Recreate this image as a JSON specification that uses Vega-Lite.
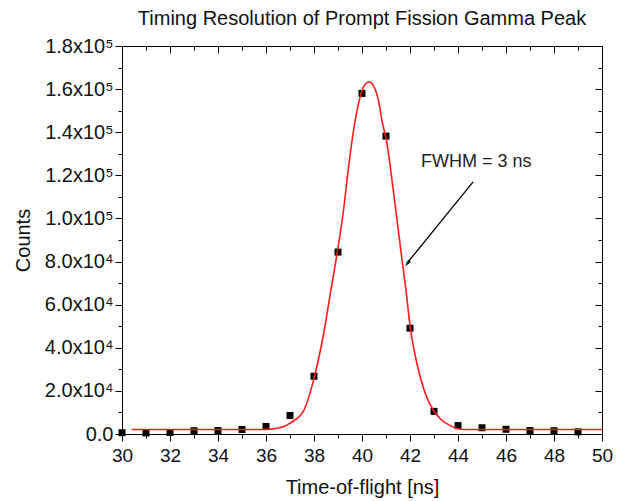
{
  "$schema": "https://vega.github.io/schema/vega-lite/v6.json",
  "autosize": {"type": "none"},
  "padding": {"left": 122, "top": 46, "right": 18, "bottom": 67},
  "width": 480,
  "height": 388,
  "background": "white",
  "title": {"text": "Timing Resolution of Prompt Fission Gamma Peak", "font": "Liberation Sans", "fontSize": 20, "fontWeight": "normal", "color": "#111", "anchor": "middle", "offset": 7},
  "config": {
    "view": {"stroke": "black", "strokeWidth": 1},
    "axis": {"labelFont": "Liberation Sans", "titleFont": "Liberation Sans", "labelColor": "#111", "titleColor": "#111", "titleFontWeight": "normal", "domainColor": "black", "tickColor": "black", "grid": false, "labelFlush": false, "labelOverlap": false}
  },
  "datasets": {
    "points": [
      {"t": 30, "counts": 600}, {"t": 31, "counts": 500}, {"t": 32, "counts": 700}, {"t": 33, "counts": 1500},
      {"t": 34, "counts": 1600}, {"t": 35, "counts": 2100}, {"t": 36, "counts": 3500}, {"t": 37, "counts": 8600},
      {"t": 38, "counts": 26800}, {"t": 39, "counts": 84400}, {"t": 40, "counts": 158000}, {"t": 41, "counts": 138200},
      {"t": 42, "counts": 49100}, {"t": 43, "counts": 10500}, {"t": 44, "counts": 3900}, {"t": 45, "counts": 2900},
      {"t": 46, "counts": 2200}, {"t": 47, "counts": 1600}, {"t": 48, "counts": 1500}, {"t": 49, "counts": 1000}
    ],
    "fit": [
      {"t": 30.4, "counts": 2100}, {"t": 36.0, "counts": 2100}, {"t": 36.5, "counts": 2800}, {"t": 36.8, "counts": 3700},
      {"t": 37.0, "counts": 5000}, {"t": 37.2, "counts": 6500}, {"t": 37.43, "counts": 8600}, {"t": 37.57, "counts": 10900},
      {"t": 37.98, "counts": 24900}, {"t": 38.4, "counts": 46500}, {"t": 38.68, "counts": 65100}, {"t": 38.96, "counts": 83700},
      {"t": 39.23, "counts": 103800}, {"t": 39.44, "counts": 123900}, {"t": 39.65, "counts": 141000}, {"t": 39.86, "counts": 153500},
      {"t": 40.01, "counts": 159600}, {"t": 40.21, "counts": 163000}, {"t": 40.3, "counts": 163300}, {"t": 40.48, "counts": 161500},
      {"t": 40.68, "counts": 155000}, {"t": 40.83, "counts": 145600}, {"t": 41.04, "counts": 134800}, {"t": 41.25, "counts": 117800},
      {"t": 41.46, "counts": 99200}, {"t": 41.67, "counts": 80600}, {"t": 41.8, "counts": 69800}, {"t": 42.01, "counts": 49600},
      {"t": 42.29, "counts": 32600}, {"t": 42.64, "counts": 18700}, {"t": 42.98, "counts": 10900}, {"t": 43.26, "counts": 7100},
      {"t": 43.68, "counts": 3900}, {"t": 44.22, "counts": 2100}, {"t": 50, "counts": 2100}
    ],
    "arrow": [
      {"t": 44.63, "counts": 116960}, {"t": 41.86, "counts": 79000}
    ],
    "head": [
      {"t": 41.9, "counts": 79200}
    ],
    "label": [
      {"t": 42.46, "counts": 126250, "text": "FWHM = 3 ns"}
    ]
  },
  "layer": [
    {
      "data": {"name": "points"},
      "mark": {"type": "point", "shape": "square", "filled": true, "color": "black", "size": 49, "opacity": 1, "clip": false},
      "encoding": {
        "x": {"field": "t", "type": "quantitative", "scale": {"domain": [30, 50], "nice": false, "zero": false},
          "axis": {"orient": "bottom", "title": "Time-of-flight [ns]", "titleFontSize": 20, "titlePadding": 12, "labelFontSize": 19, "labelPadding": 5,
            "values": [30,31,32,33,34,35,36,37,38,39,40,41,42,43,44,45,46,47,48,49,50],
            "labelExpr": "datum.value % 2 == 0 ? format(datum.value, 'd') : ''",
            "tickSize": {"condition": {"test": "datum.value % 2 == 0", "value": 7}, "value": 4}}},
        "y": {"field": "counts", "type": "quantitative", "scale": {"domain": [0, 180000], "nice": false},
          "axis": {"orient": "left", "title": "Counts", "titleFontSize": 20, "titlePadding": 11, "labelFontSize": 20, "labelPadding": 2,
            "values": [0,10000,20000,30000,40000,50000,60000,70000,80000,90000,100000,110000,120000,130000,140000,150000,160000,170000,180000],
            "labelExpr": "datum.value == 0 ? '0.0' : (datum.value % 20000 != 0 ? '' : (datum.value >= 100000 ? format(datum.value/100000, '.1f') + 'x10⁵' : format(datum.value/10000, '.1f') + 'x10⁴'))",
            "tickSize": {"condition": {"test": "datum.value % 20000 == 0", "value": 7}, "value": 4}}}
      }
    },
    {
      "data": {"name": "fit"},
      "mark": {"type": "line", "color": "#ff1a1a", "strokeWidth": 1.6, "interpolate": "monotone"},
      "encoding": {
        "x": {"field": "t", "type": "quantitative",
          "axis": {"orient": "top", "title": null, "labels": false,
            "values": [30,31,32,33,34,35,36,37,38,39,40,41,42,43,44,45,46,47,48,49,50],
            "tickSize": {"condition": {"test": "datum.value % 2 == 0", "value": -7}, "value": -4}}},
        "y": {"field": "counts", "type": "quantitative",
          "axis": {"orient": "right", "title": null, "labels": false,
            "values": [0,10000,20000,30000,40000,50000,60000,70000,80000,90000,100000,110000,120000,130000,140000,150000,160000,170000,180000],
            "tickSize": {"condition": {"test": "datum.value % 20000 == 0", "value": -7}, "value": -4}}}
      }
    },
    {
      "data": {"name": "arrow"},
      "mark": {"type": "line", "color": "black", "strokeWidth": 1.3},
      "encoding": {
        "x": {"field": "t", "type": "quantitative", "axis": null},
        "y": {"field": "counts", "type": "quantitative", "axis": null}
      }
    },
    {
      "data": {"name": "head"},
      "mark": {"type": "point", "shape": "M0,-1L0.45,0.8L-0.45,0.8Z", "filled": true, "color": "black", "opacity": 1, "size": 64, "angle": 219},
      "encoding": {
        "x": {"field": "t", "type": "quantitative", "axis": null},
        "y": {"field": "counts", "type": "quantitative", "axis": null}
      }
    },
    {
      "data": {"name": "label"},
      "mark": {"type": "text", "align": "left", "baseline": "middle", "font": "Liberation Sans", "fontSize": 18, "color": "#222"},
      "encoding": {
        "x": {"field": "t", "type": "quantitative", "axis": null},
        "y": {"field": "counts", "type": "quantitative", "axis": null},
        "text": {"field": "text"}
      }
    }
  ],
  "resolve": {"axis": {"x": "independent", "y": "independent"}}
}
